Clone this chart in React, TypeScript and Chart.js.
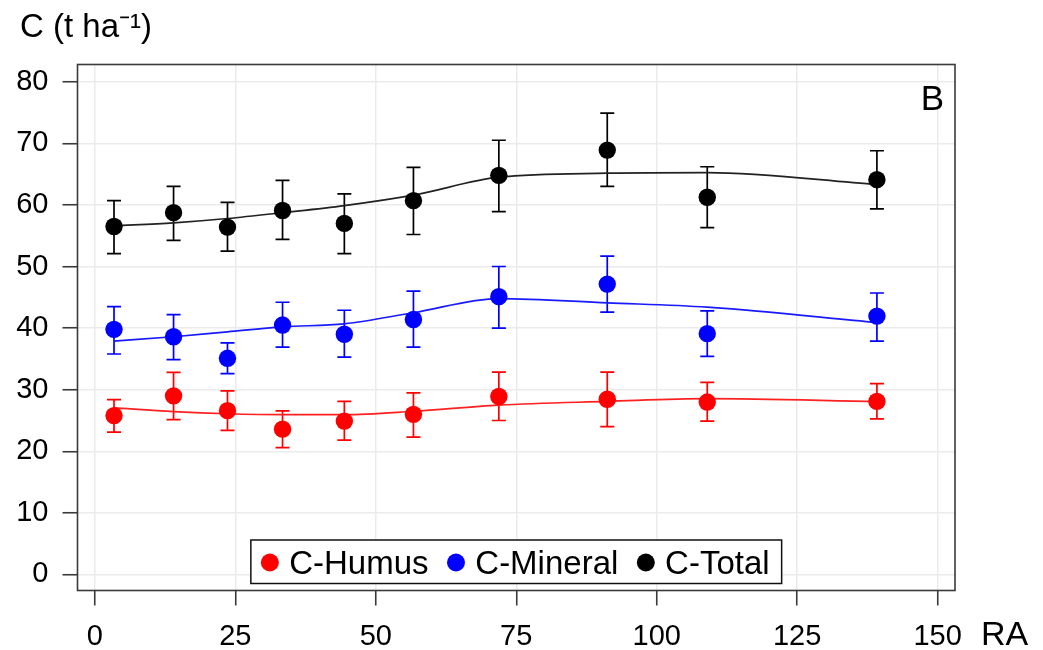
import React, { useEffect, useRef } from "react";
import { Chart, registerables } from "chart.js";

Chart.register(...registerables);

// ---- Data ----
const RA = [3.4, 14.0, 23.6, 33.4, 44.4, 56.7, 71.9, 91.2, 109.0, 139.2];

const humusMean = [25.8, 29.0, 26.6, 23.6, 24.9, 26.0, 28.9, 28.45, 28.0, 28.1];
const humusUpper = [28.4, 32.8, 29.8, 26.55, 28.1, 29.5, 32.85, 32.85, 31.2, 31.0];
const humusLower = [23.1, 25.15, 23.4, 20.6, 21.8, 22.3, 25.0, 24.0, 24.9, 25.25];
const humusFit = [27.05, 26.45, 26.1, 25.95, 25.95, 26.5, 27.5, 28.1, 28.55, 28.1];

const mineralMean = [39.8, 38.6, 35.1, 40.5, 39.0, 41.4, 45.1, 47.15, 39.1, 41.95];
const mineralUpper = [43.5, 42.2, 37.6, 44.2, 42.9, 46.0, 50.0, 51.7, 42.8, 45.7];
const mineralLower = [35.8, 34.9, 32.6, 36.9, 35.3, 36.9, 40.0, 42.6, 35.4, 37.9];
const mineralFit = [37.9, 38.6, 39.4, 40.2, 40.7, 42.5, 44.8, 44.1, 43.4, 40.9];

const totalMean = [56.5, 58.75, 56.4, 59.1, 57.0, 60.7, 64.8, 68.9, 61.25, 64.1];
const totalUpper = [60.7, 63.0, 60.4, 64.0, 61.8, 66.1, 70.5, 74.9, 66.2, 68.8];
const totalLower = [52.1, 54.25, 52.5, 54.4, 52.1, 55.2, 58.9, 63.0, 56.3, 59.35];
const totalFit = [56.6, 57.1, 57.8, 58.75, 59.9, 61.6, 64.5, 65.15, 65.25, 63.3];

const seriesNames = ["C-Humus", "C-Mineral", "C-Total"];
const seriesColors = ["#ff0000", "#0000ff", "#000000"];
const fitColors = ["#ff2020", "#1a1aff", "#222222"];

const yTitle = "C (t ha\u207B\u00B9)";
const xTitle = "RA";
const panelLabel = "B";

const FONT = "'Liberation Sans', Arial, sans-serif";

const toXY = (ys: number[]) => RA.map((x, i) => ({ x, y: ys[i] }));

const errorSets = [
  { lo: humusLower, hi: humusUpper },
  { lo: mineralLower, hi: mineralUpper },
  { lo: totalLower, hi: totalUpper },
];

const decorPlugin = {
  id: "decor",
  beforeDatasetsDraw(chart: any) {
    const { ctx, scales } = chart;
    const xs = scales.x;
    const ys = scales.y;
    ctx.save();
    ctx.lineWidth = 1.7;
    errorSets.forEach((s, k) => {
      ctx.strokeStyle = seriesColors[k];
      RA.forEach((x, i) => {
        const px = xs.getPixelForValue(x);
        const y1 = ys.getPixelForValue(s.hi[i]);
        const y2 = ys.getPixelForValue(s.lo[i]);
        ctx.beginPath();
        ctx.moveTo(px, y1);
        ctx.lineTo(px, y2);
        ctx.moveTo(px - 7, y1);
        ctx.lineTo(px + 7, y1);
        ctx.moveTo(px - 7, y2);
        ctx.lineTo(px + 7, y2);
        ctx.stroke();
      });
    });
    ctx.restore();
  },
  afterDraw(chart: any) {
    const { ctx, chartArea } = chart;
    const { left, right, top, bottom } = chartArea;
    ctx.save();
    // plot border
    ctx.strokeStyle = "#3a3a3a";
    ctx.lineWidth = 1.6;
    ctx.strokeRect(left, top, right - left, bottom - top);

    // legend box inside plot at bottom centre
    const lf = `33px ${FONT}`;
    ctx.font = lf;
    const widths = seriesNames.map((n) => ctx.measureText(n).width);
    const padL = 19;
    const mk2txt = 19.3;
    const between = 27.5;
    const padR = 12;
    let w = padL + padR;
    widths.forEach((tw, i) => {
      w += mk2txt + tw + (i < widths.length - 1 ? between : 0);
    });
    const h = 43.5;
    const bx = (left + right) / 2 - w / 2;
    const by = bottom - 7 - h;
    ctx.fillStyle = "#ffffff";
    ctx.fillRect(bx, by, w, h);
    ctx.strokeStyle = "#111";
    ctx.lineWidth = 1.5;
    ctx.strokeRect(bx, by, w, h);
    let cx = bx + padL;
    const cy = by + 22.5;
    widths.forEach((tw, i) => {
      ctx.fillStyle = seriesColors[i];
      ctx.beginPath();
      ctx.arc(cx, cy, 9, 0, Math.PI * 2);
      ctx.fill();
      ctx.fillStyle = "#000";
      ctx.textAlign = "left";
      ctx.textBaseline = "alphabetic";
      ctx.fillText(seriesNames[i], cx + mk2txt, by + 34);
      cx += mk2txt + tw + between;
    });

    // y title
    ctx.fillStyle = "#000";
    ctx.font = `33px ${FONT}`;
    ctx.textAlign = "left";
    ctx.textBaseline = "alphabetic";
    ctx.fillText(yTitle, 20, 37);

    // panel label
    ctx.font = `35px ${FONT}`;
    ctx.textAlign = "right";
    ctx.fillText(panelLabel, right - 11, top + 45);

    // x title
    ctx.font = `34px ${FONT}`;
    ctx.textAlign = "left";
    ctx.fillText(xTitle, 981, 645);
    ctx.restore();
  },
};

export default function App() {
  const ref = useRef<HTMLCanvasElement | null>(null);

  useEffect(() => {
    if (!ref.current) return;
    const pointSets = [humusMean, mineralMean, totalMean];
    const fitSets = [humusFit, mineralFit, totalFit];
    const datasets: any[] = [];
    fitSets.forEach((f, i) => {
      datasets.push({
        type: "line",
        label: seriesNames[i] + " fit",
        data: toXY(f),
        borderColor: fitColors[i],
        borderWidth: 1.7,
        pointRadius: 0,
        fill: false,
        cubicInterpolationMode: "monotone",
        order: 2,
      });
    });
    pointSets.forEach((p, i) => {
      datasets.push({
        type: "scatter",
        label: seriesNames[i],
        data: toXY(p),
        backgroundColor: seriesColors[i],
        borderColor: seriesColors[i],
        borderWidth: 0,
        pointRadius: 8.7,
        pointHoverRadius: 8.7,
        showLine: false,
        order: 1,
      });
    });

    const chart = new Chart(ref.current, {
      type: "scatter",
      data: { datasets },
      options: {
        animation: false,
        responsive: false,
        devicePixelRatio: 1,
        events: [],
        layout: { padding: { top: 64.5, right: 88, left: 0, bottom: 0 } },
        plugins: {
          legend: { display: false },
          tooltip: { enabled: false },
          title: { display: false },
        },
        scales: {
          x: {
            type: "linear",
            min: -3.1,
            max: 153.1,
            afterFit: (s: any) => {
              s.height = 59.5;
            },
            ticks: {
              stepSize: 25,
              includeBounds: false,
              color: "#000",
              padding: 14,
              font: { family: FONT, size: 29 },
              maxRotation: 0,
            },
            grid: {
              color: "#ebebeb",
              lineWidth: 1.5,
              tickColor: "#3a3a3a",
              tickWidth: 1.6,
              tickLength: 15,
            },
            border: { display: false },
          },
          y: {
            type: "linear",
            min: -2.6,
            max: 82.8,
            afterFit: (s: any) => {
              s.width = 77.5;
            },
            ticks: {
              stepSize: 10,
              includeBounds: false,
              color: "#000",
              padding: 14,
              font: { family: FONT, size: 29 },
            },
            grid: {
              color: "#ebebeb",
              lineWidth: 1.5,
              tickColor: "#3a3a3a",
              tickWidth: 1.6,
              tickLength: 15,
            },
            border: { display: false },
          },
        },
      },
      plugins: [decorPlugin],
    } as any);
    return () => chart.destroy();
  }, []);

  return (
    <div style={{ position: "absolute", left: 0, top: 0, width: 1043, height: 650, background: "#fff" }}>
      <canvas ref={ref} width={1043} height={650} style={{ display: "block" }} />
    </div>
  );
}
